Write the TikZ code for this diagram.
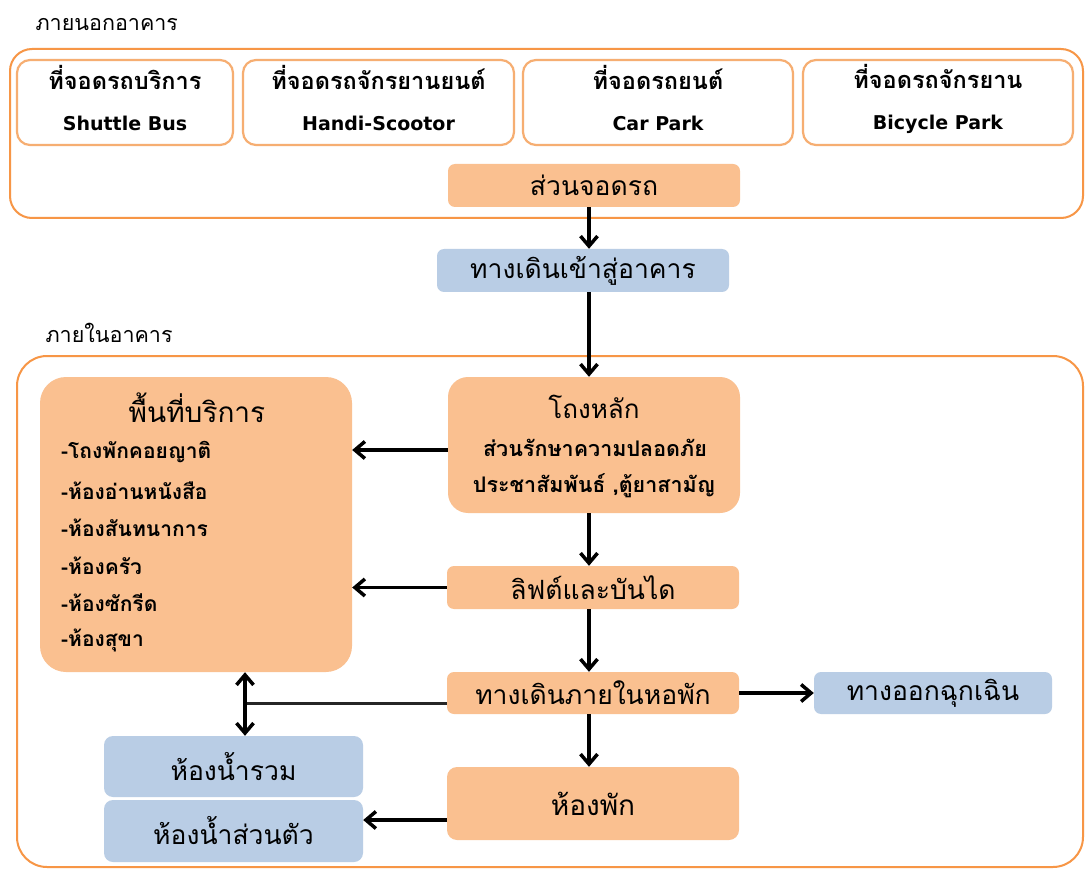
\documentclass[tikz,border=0pt]{standalone}
\usepackage{fontspec}
\setmainfont[Script=Thai]{Loma}
\newfontfamily\latfont{DejaVu Sans}
\usetikzlibrary{arrows.meta,calc}
\definecolor{orfill}{HTML}{FAC090}
\definecolor{blfill}{HTML}{B9CDE5}
\definecolor{orline}{HTML}{F79646}
\definecolor{orline2}{HTML}{F6AE72}
\begin{document}
\begin{tikzpicture}[x=1pt,y=-1pt,
  ob/.style={draw=orline, line width=2pt, rounded corners=22pt},
  pk/.style={draw=orline2, line width=2.2pt, fill=white, rounded corners=13pt, minimum height=85pt},
  pkt/.style={align=center, inner sep=0pt, yshift=4pt, font=\bfseries\fontsize{23.5}{28}\selectfont},
  ofill/.style={fill=orfill, rounded corners=7pt, inner sep=0pt, align=center},
  bfill/.style={fill=blfill, rounded corners=7pt, inner sep=0pt, align=center},
  arr/.style={line width=3.5pt, -{Straight Barb[length=10pt,width=17pt]}},
  darr/.style={line width=3.5pt, {Straight Barb[length=10pt,width=17pt]}-{Straight Barb[length=10pt,width=17pt]}},
  lbl/.style={anchor=west, font=\fontsize{21.5}{24}\selectfont},
  big/.style={font=\fontsize{26.5}{30}\selectfont},
  item/.style={anchor=west, inner sep=0pt, font=\bfseries\fontsize{21}{24}\selectfont}
]
\fill[white] (0,0) rectangle (1085,869);
\useasboundingbox (0,0) rectangle (1085,869);

% outside
\node[lbl] (lblA) at (32,25) {ภายนอกอาคาร};
\node[ob, minimum width=1073pt, minimum height=169pt] (outA) at (546.5,133.5) {};
\node[pk, minimum width=216pt] (p1) at (125,102.5) {};
\node[pk, minimum width=271pt] (p2) at (378.5,102.5) {};
\node[pk, minimum width=270pt] (p3) at (658,102.5) {};
\node[pk, minimum width=270pt] (p4) at (938,102.5) {};
\node[pkt] (p1t) at (p1) {ที่จอดรถบริการ\\[13pt]{\latfont\fontsize{19}{22}\selectfont Shuttle Bus}};
\node[pkt] (p2t) at (p2) {ที่จอดรถจักรยานยนต์\\[13pt]{\latfont\fontsize{19}{22}\selectfont Handi-Scootor}};
\node[pkt] (p3t) at (p3) {ที่จอดรถยนต์\\[13pt]{\latfont\fontsize{19}{22}\selectfont Car Park}};
\node[pkt] (p4t) at (p4) {ที่จอดรถจักรยาน\\[13pt]{\latfont\fontsize{19}{22}\selectfont Bicycle Park}};
\node[ofill, big, minimum width=292pt, minimum height=43pt] (sjr) at (594,185.5) {ส่วนจอดรถ};
\node[bfill, big, minimum width=292pt, minimum height=43pt] (tdk) at (583,270.5) {ทางเดินเข้าสู่อาคาร};

% inside
\node[lbl] (lblB) at (42,333) {ภายในอาคาร};
\node[ob, rounded corners=30pt, minimum width=1066pt, minimum height=511pt] (outB) at (550,611.5) {};
\node[ofill, rounded corners=26pt, minimum width=312pt, minimum height=295pt] (svc) at (196,524.5) {};
\node[font=\fontsize{28}{32}\selectfont] (svct) at (197,408) {พื้นที่บริการ};
\node[item] (i1) at (61,452) {-โถงพักคอยญาติ};
\node[item] (i2) at (61,491) {-ห้องอ่านหนังสือ};
\node[item] (i3) at (61,528) {-ห้องสันทนาการ};
\node[item] (i4) at (61,566) {-ห้องครัว};
\node[item] (i5) at (61,603) {-ห้องซักรีด};
\node[item] (i6) at (61,640) {-ห้องสุขา};

\node[ofill, rounded corners=20pt, minimum width=292pt, minimum height=136pt] (hall) at (594,445) {};
\node[font=\fontsize{26}{30}\selectfont] (hallt) at (594,407) {โถงหลัก};
\node[font=\bfseries\fontsize{21.5}{24}\selectfont] (hs1) at (595,448) {ส่วนรักษาความปลอดภัย};
\node[font=\bfseries\fontsize{21.5}{24}\selectfont] (hs2) at (594,486) {ประชาสัมพันธ์ ,ตู้ยาสามัญ};

\node[ofill, big, minimum width=292pt, minimum height=43pt] (lift) at (593,587.5) {ลิฟต์และบันได};
\node[ofill, big, minimum width=292pt, minimum height=42pt] (corr) at (593,693) {ทางเดินภายในหอพัก};
\node[bfill, big, minimum width=238pt, minimum height=42pt] (exit) at (933,693) {ทางออกฉุกเฉิน};
\node[ofill, font=\fontsize{28}{32}\selectfont, rounded corners=10pt, minimum width=292pt, minimum height=73pt] (room) at (593,803.5) {ห้องพัก};
\node[bfill, big, rounded corners=9pt, minimum width=259pt, minimum height=61pt] (wc1) at (233.5,766.5) {ห้องน้ำรวม};
\node[bfill, big, rounded corners=9pt, minimum width=259pt, minimum height=62pt] (wc2) at (233.5,831) {ห้องน้ำส่วนตัว};

% connectors
\coordinate (ax) at (589,0);
\coordinate (jn) at (245,703);
\draw[arr] (sjr.south -| ax) -- (tdk.north -| ax);
\draw[arr] (tdk.south -| ax) -- (hall.north -| ax);
\draw[arr] (hall.south -| ax) -- (lift.north -| ax);
\draw[arr] (lift.south -| ax) -- (corr.north -| ax);
\draw[arr] (corr.south -| ax) -- (room.north -| ax);
\draw[arr] ([yshift=-5pt]hall.west) -- ([yshift=-5pt]hall.west -| svc.east);
\draw[arr] (lift.west) -- (lift.west -| svc.east);
\draw[arr] (corr.east) -- (exit.west);
\draw[line width=3pt, black!85] ([yshift=-10pt]corr.west) -- (jn);
\draw[darr] (svc.south -| jn) -- (wc1.north -| jn);
\draw[arr] ([yshift=-16.5pt]room.west) -- ([yshift=-16.5pt]room.west -| wc2.east);
\end{tikzpicture}
\end{document}
